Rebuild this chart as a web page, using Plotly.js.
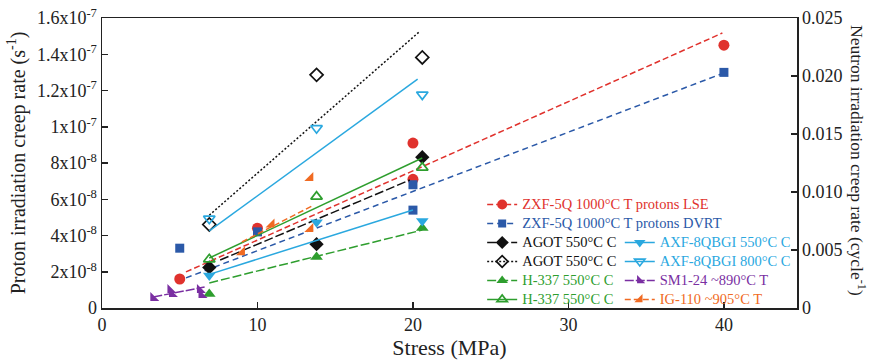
<!DOCTYPE html>
<html><head><meta charset="utf-8">
<script src="https://cdn.plot.ly/plotly-3.0.1.min.js"></script>
<style>html,body{margin:0;padding:0;background:#fff}#chart{width:876px;height:360px}</style>
</head><body><div id="chart"></div>
<script>
// ---- data ----
const stressTicks=[0,10,20,30,40];
const leftTickVals=[0,2e-8,4e-8,6e-8,8e-8,1e-7,1.2e-7,1.4e-7,1.6e-7];
const leftTickText=['0','2x10<sup>-8</sup>','4x10<sup>-8</sup>','6x10<sup>-8</sup>','8x10<sup>-8</sup>','1x10<sup>-7</sup>','1.2x10<sup>-7</sup>','1.4x10<sup>-7</sup>','1.6x10<sup>-7</sup>'];
const rightTickVals=[0,0.005,0.010,0.015,0.020,0.025];
const rightTickText=['0','0.005','0.010','0.015','0.020','0.025'];

// proton series (left axis, s^-1)
const lseX=[5,10,20,20,40];
const lseY=[1.6e-8,4.4e-8,9.1e-8,7.1e-8,14.5e-8];
const lseFitX=[5.4,39.9];
const lseFitY=[1.99e-8,15.17e-8];
const dvrtX=[5,10,20,20,40];
const dvrtY=[3.3e-8,4.2e-8,6.8e-8,5.4e-8,13.0e-8];
const dvrtFitX=[5.4,40];
const dvrtFitY=[1.66e-8,12.97e-8];

// neutron series (right axis, cycle^-1)
const agotFX=[6.9,13.8,20.6];
const agotFY=[0.0035,0.0055,0.0130];
const agotFFitX=[7.6,19.8];
const agotFFitY=[0.00414,0.01103];
const agotOX=[6.9,13.8,20.6];
const agotOY=[0.0072,0.0201,0.0216];
const agotOFitX=[6.9,20.4];
const agotOFitY=[0.0080,0.0238];
const h337FX=[6.9,13.8,20.6];
const h337FY=[0.0012,0.0044,0.0069];
const h337FFitX=[6.9,20.6];
const h337FFitY=[0.00216,0.00672];
const h337OX=[6.9,13.8,20.6];
const h337OY=[0.0042,0.0096,0.0121];
const h337OFitX=[6.9,20.6];
const h337OFitY=[0.00431,0.01293];
const axf550X=[6.9,13.8,20.6];
const axf550Y=[0.0028,0.0074,0.0075];
const axf550FitX=[6.9,20.0];
const axf550FitY=[0.0029,0.00845];
const axf800X=[6.9,13.8,20.6];
const axf800Y=[0.0077,0.0155,0.0184];
const axf800FitX=[6.9,20.3];
const axf800FitY=[0.00664,0.01974];
const sm1X=[3.3,4.4,4.5,6.3,6.4];
const sm1Y=[0.00086,0.00155,0.0012,0.00155,0.00112];
const sm1FitX=[3.3,6.6];
const sm1FitY=[0.00095,0.00181];
const igX=[9.0,10.9,13.4,13.4];
const igY=[0.0048,0.0072,0.0068,0.0112];
const igFitX=[9.0,13.5];
const igFitY=[0.00569,0.00879];

// ---- styling ----
const RED='#e0322d', BLUE='#2b59a8', BLACK='#111111', CYAN='#2aa8df', GREEN='#2e9e2e', PURPLE='#7a2fa2', ORANGE='#f06a22';
const FONT='"Liberation Serif", "Times New Roman", serif';

function lbl(t,c){return '<span style="font-family:Liberation Serif;font-size:14.5px;color:'+c+'">'+t+'</span>';}

const traces=[];
function series(o){
  const yax=o.right?'y2':'y';
  const mk={color:o.color,symbol:o.symbol,size:o.size,line:{color:o.color,width:o.open?1.7:0}};
  const ln={color:o.color,width:1.5,dash:o.dash};
  traces.push({x:o.fx,y:o.fy,yaxis:yax,mode:'lines',line:ln,showlegend:false,hoverinfo:'skip'});
  traces.push({x:o.x,y:o.y,yaxis:yax,mode:'markers',marker:mk,showlegend:false,cliponaxis:false});
  traces.push({x:[null],y:[null],yaxis:yax,mode:'lines+markers',marker:Object.assign({},mk,{size:o.size-1}),line:ln,
    name:lbl(o.name,o.color),showlegend:true,legend:o.legend});
}
series({name:'ZXF-5Q 1000°C T protons LSE',color:RED,symbol:'circle',size:11,x:lseX,y:lseY,fx:lseFitX,fy:lseFitY,dash:'6px,3px',right:false,legend:'legend'});
series({name:'ZXF-5Q 1000°C T protons DVRT',color:BLUE,symbol:'square',size:9,x:dvrtX,y:dvrtY,fx:dvrtFitX,fy:dvrtFitY,dash:'6px,4px',right:false,legend:'legend'});
series({name:'AGOT 550°C C',color:BLACK,symbol:'diamond',size:11,x:agotFX,y:agotFY,fx:agotFFitX,fy:agotFFitY,dash:'9px,3px',right:true,legend:'legend'});
series({name:'AGOT 550°C C',color:BLACK,symbol:'diamond-open',size:10,open:true,x:agotOX,y:agotOY,fx:agotOFitX,fy:agotOFitY,dash:'2px,2px',right:true,legend:'legend'});
series({name:'H-337 550°C C',color:GREEN,symbol:'triangle-up',size:11,x:h337FX,y:h337FY,fx:h337FFitX,fy:h337FFitY,dash:'9px,3px',right:true,legend:'legend'});
series({name:'H-337 550°C C',color:GREEN,symbol:'triangle-up-open',size:10,open:true,x:h337OX,y:h337OY,fx:h337OFitX,fy:h337OFitY,dash:'solid',right:true,legend:'legend'});
series({name:'AXF-8QBGI 550°C C',color:CYAN,symbol:'triangle-down',size:11,x:axf550X,y:axf550Y,fx:axf550FitX,fy:axf550FitY,dash:'solid',right:true,legend:'legend2'});
series({name:'AXF-8QBGI 800°C C',color:CYAN,symbol:'triangle-down-open',size:10,open:true,x:axf800X,y:axf800Y,fx:axf800FitX,fy:axf800FitY,dash:'solid',right:true,legend:'legend2'});
series({name:'SM1-24 ~890°C T',color:PURPLE,symbol:'triangle-sw',size:10,x:sm1X,y:sm1Y,fx:sm1FitX,fy:sm1FitY,dash:'9px,2px',right:true,legend:'legend2'});
series({name:'IG-110 ~905°C T',color:ORANGE,symbol:'triangle-se',size:10,x:igX,y:igY,fx:igFitX,fy:igFitY,dash:'6px,3px',right:true,legend:'legend2'});

const AX='#222222';
const layout={
  width:876,height:360,
  margin:{l:102,r:79,t:18,b:52,pad:0},
  paper_bgcolor:'#ffffff',plot_bgcolor:'#ffffff',
  font:{family:FONT,size:16,color:'#222'},
  showlegend:true,
  xaxis:{range:[0,44.7],tickvals:stressTicks,ticktext:stressTicks.map(String),ticks:'inside',ticklen:6,tickwidth:1.5,tickcolor:AX,
    showline:true,linecolor:AX,linewidth:1.5,mirror:true,showgrid:false,zeroline:false,
    tickfont:{family:FONT,size:18,color:'#222'},
    title:{text:'Stress (MPa)',font:{family:FONT,size:22,color:'#222'},standoff:6}},
  yaxis:{range:[0,1.6e-7],tickvals:leftTickVals,ticktext:leftTickText,ticks:'inside',ticklen:6,tickwidth:1.5,tickcolor:AX,
    showline:true,linecolor:AX,linewidth:1.5,showgrid:false,zeroline:false,
    tickfont:{family:FONT,size:18,color:'#222'},
    title:{text:'Proton irradiation creep rate (s<sup>-1</sup>)',font:{family:FONT,size:20,color:'#222'},standoff:6}},
  yaxis2:{range:[0,0.025],overlaying:'y',side:'right',tickvals:rightTickVals,ticktext:rightTickText,ticks:'inside',ticklen:6,tickwidth:1.5,tickcolor:AX,
    showline:true,linecolor:AX,linewidth:1.5,showgrid:false,zeroline:false,
    tickfont:{family:FONT,size:18,color:'#222'}},
  legend:{x:0.547,xanchor:'left',y:0.407,yanchor:'top',bgcolor:'rgba(0,0,0,0)',font:{family:FONT,size:11},itemwidth:30,tracegroupgap:0},
  legend2:{x:0.745,xanchor:'left',y:0.276,yanchor:'top',bgcolor:'rgba(0,0,0,0)',font:{family:FONT,size:11},itemwidth:30,tracegroupgap:0},
  annotations:[{xref:'paper',yref:'paper',x:1.0878,y:0.51,xanchor:'center',yanchor:'middle',showarrow:false,textangle:90,
    text:'Neutron irradiation creep rate (cycle<sup>-1</sup>)',font:{family:FONT,size:17.5,color:'#222'}}]
};
Plotly.newPlot('chart',traces,layout,{displayModeBar:false,staticPlot:true});
</script></body></html>
